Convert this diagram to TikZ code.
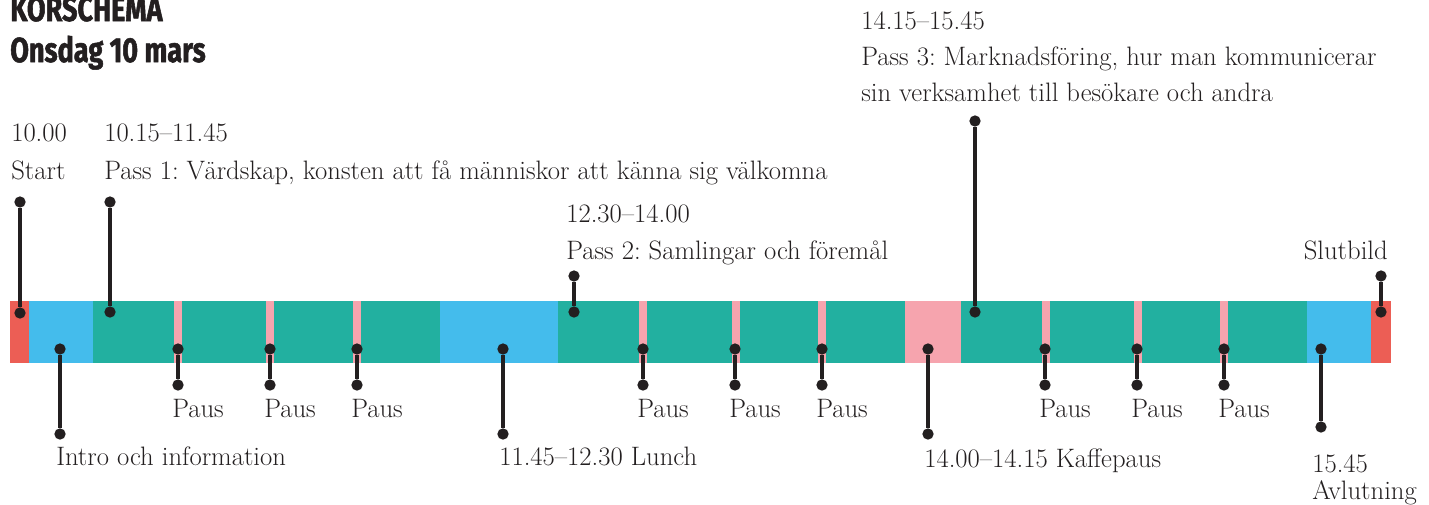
\documentclass[tikz,border=0pt]{standalone}
\usepackage{fontspec}
\newfontfamily\titlefont[FakeStretch=0.78,FakeBold=1.5]{Fira Sans}
\definecolor{cred}{HTML}{EC5E55}
\definecolor{cblue}{HTML}{44BCEC}
\definecolor{cteal}{HTML}{22B0A0}
\definecolor{cpink}{HTML}{F6A4AE}
\definecolor{cink}{HTML}{231F20}
\frenchspacing
\begin{document}
\begin{tikzpicture}[x=0.75pt,y=-0.75pt,
  dot/.style={circle,fill=cink,inner sep=0pt,minimum size=8.5pt},
  pin/.style={draw=cink,line width=2.3pt},
  lbl/.style={anchor=base west,inner sep=0pt,text=cink,font=\fontsize{20}{27}\selectfont},
  ttl/.style={anchor=base west,inner sep=0pt,text=cink,font=\titlefont\bfseries\fontsize{26}{30}\selectfont}]
\useasboundingbox (0,0) rectangle (1429,504);
% bar segments
\fill[cred]  (10,301) rectangle (29,363);
\fill[cblue] (29,301) rectangle (93,363);
\fill[cteal] (93,301) rectangle (440,363);
\fill[cblue] (440,301) rectangle (558,363);
\fill[cteal] (558,301) rectangle (905,363);
\fill[cpink] (905,301) rectangle (961,363);
\fill[cteal] (961,301) rectangle (1307,363);
\fill[cblue] (1307,301) rectangle (1371,363);
\fill[cred]  (1371,301) rectangle (1391,363);
\foreach \a/\b in {174/182,266/274,353/361,639/647,732/740,818/826,1042/1050,1134/1142,1220/1228}
  \fill[cpink] (\a,301) rectangle (\b,363);
% title
\node[ttl] (t1) at (10,21) {KORSCHEMA};
\node[ttl] (t2) at (10,62) {Onsdag 10 mars};
% upper pins
\node[dot] (st1) at (20,202) {}; \node[dot] (st2) at (20,313) {};
\draw[pin] (st1) -- (st2);
\node[dot] (p11) at (110,202) {}; \node[dot] (p12) at (110,312) {};
\draw[pin] (p11) -- (p12);
\node[dot] (p21) at (574,276) {}; \node[dot] (p22) at (574,312) {};
\draw[pin] (p21) -- (p22);
\node[dot] (p31) at (975,121) {}; \node[dot] (p32) at (975,312) {};
\draw[pin] (p31) -- (p32);
\node[dot] (sb1) at (1381,276) {}; \node[dot] (sb2) at (1381,312) {};
\draw[pin] (sb1) -- (sb2);
% lower pins
\node[dot] (in1) at (60,349) {}; \node[dot] (in2) at (60,434) {};
\draw[pin] (in1) -- (in2);
\node[dot] (lu1) at (503,349) {}; \node[dot] (lu2) at (503,434) {};
\draw[pin] (lu1) -- (lu2);
\node[dot] (kp1) at (928,349) {}; \node[dot] (kp2) at (928,434) {};
\draw[pin] (kp1) -- (kp2);
\node[dot] (av1) at (1321,349) {}; \node[dot] (av2) at (1321,427) {};
\draw[pin] (av1) -- (av2);
\foreach \x [count=\i] in {178,270,357,643,735,822,1045,1137,1224} {
  \node[dot] (pa\i a) at (\x,349) {};
  \node[dot] (pa\i b) at (\x,385) {};
  \draw[pin] (pa\i a) -- (pa\i b);
  \node[lbl] (pl\i) at (\x-6,417) {Paus};
}
% labels
\node[lbl] (ls1) at (11,141) {10.00};
\node[lbl] (ls2) at (11,179) {Start};
\node[lbl] (l11) at (104,141) {10.15–11.45};
\node[lbl] (l12) at (104,179) {Pass 1: Värdskap, konsten att få människor att känna sig välkomna};
\node[lbl] (l21) at (566,222) {12.30–14.00};
\node[lbl] (l22) at (566,259) {Pass 2: Samlingar och föremål};
\node[lbl] (l31) at (861,29) {14.15–15.45};
\node[lbl] (l32) at (861,65) {Pass 3: Marknadsföring, hur man kommunicerar};
\node[lbl] (l33) at (861,101) {sin verksamhet till besökare och andra};
\node[lbl,anchor=base east] (lsb) at (1388,259) {Slutbild};
\node[lbl] (lin) at (56,465) {Intro och information};
\node[lbl] (llu) at (499,465) {11.45–12.30 Lunch};
\node[lbl] (lkp) at (924,467) {14.00–14.15 Kaffepaus};
\node[lbl] (lav1) at (1312,472) {15.45};
\node[lbl] (lav2) at (1312,499) {Avlutning};
\end{tikzpicture}
\end{document}
